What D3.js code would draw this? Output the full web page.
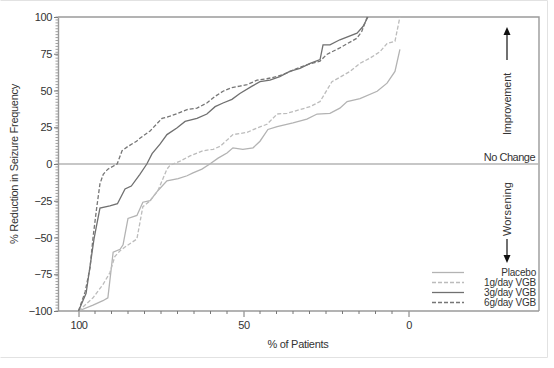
<!DOCTYPE html>
<html>
<head>
<meta charset="utf-8">
<script src="https://cdn.jsdelivr.net/npm/d3@7"></script>
<style>
  body { margin: 0; background: #fff; }
  text { font-family: "Liberation Sans", Arial, sans-serif; fill: #333; }
</style>
</head>
<body>
<script>
// % of patients (x) and % reduction (y) for each group
let placeboX = [100, 95.6, 92.6, 91.1, 89.5, 87.4, 86.5, 85, 82.3, 80.5, 78.3, 75.9, 73.2, 69.8, 67.1, 65.3, 62.6, 60.2, 57.7, 55, 53.2, 50.2, 47.1, 45, 42.6, 39.8, 35, 30.8, 27.7, 23.8, 20.8, 18.6, 14.7, 9.5, 6.5, 4.1, 2.6]
let placeboY = [-100, -96, -93, -91, -60, -58, -55, -37, -35, -26, -25, -18, -11.5, -10, -8, -6, -3.5, 0, 4, 7.5, 11, 10, 11, 15.5, 23.5, 25.5, 28, 30.5, 34, 34.5, 38, 42.5, 44.5, 49.5, 55, 63, 78]

let g1X = [100, 95.6, 92.6, 90.5, 89, 87.4, 85.3, 82.3, 81.4, 80.5, 78.3, 75.9, 73.2, 72.3, 69.2, 66.2, 62.3, 59.2, 57.1, 53.2, 48.9, 45.9, 42.9, 39.8, 36.8, 32.9, 29.8, 26.8, 23.2, 20.8, 17.7, 14.7, 11.7, 8.6, 6.5, 4.1, 2.6]
let g1Y = [-100, -91, -82, -74, -63, -59, -55.5, -51, -40, -29, -25, -18, -3.5, -1, 2, 5.5, 9, 10, 12, 20, 21.5, 24.5, 27, 34, 34.5, 37, 39, 42.5, 56, 59, 63, 68.5, 72, 76.5, 82, 83.5, 100]

let g3X = [100, 97.7, 95.3, 93.5, 90.5, 88.2, 85.9, 84, 81.4, 79.3, 77.7, 75.3, 73.2, 70.2, 67.7, 64.1, 61.1, 58.6, 56.2, 53.5, 51.1, 47.4, 45, 42, 39, 36, 32.9, 29.8, 26.8, 25.9, 23.8, 20.8, 15.6, 13.8, 12.3]
let g3Y = [-100, -88, -51, -30, -28.5, -27, -17, -15, -7, 0, 7, 13.5, 20, 24.5, 29, 31, 34, 39, 41.5, 44, 48, 53, 56, 57, 59.5, 63, 65, 68.5, 71, 81, 81, 84.5, 89, 93.5, 100]

let g6X = [100, 98, 96.5, 95.6, 94.5, 93.5, 92.5, 91.1, 89.5, 88.3, 86.8, 85, 82.4, 81.4, 78.3, 74.7, 72.3, 69.9, 67.1, 64.1, 61.1, 58.6, 56.2, 53.5, 51.1, 48.9, 45.9, 42.9, 39.8, 36.8, 34.9, 30.8, 26.8, 24.8, 20.8, 15.7, 14.2, 12.5]
let g6Y = [-100, -87, -70.5, -50, -30, -13.5, -7, -3.5, -1.5, 0, 9, 12, 15.5, 17.5, 22.5, 31, 32.5, 34.5, 37, 38, 41.5, 46, 49.5, 52, 53, 54, 57, 58, 59.5, 62, 64, 67.5, 70, 74.5, 79, 85.5, 90, 100]

let seriesNames = ['Placebo', '1g/day VGB', '3g/day VGB', '6g/day VGB']
let seriesX = [placeboX, g1X, g3X, g6X]
let seriesY = [placeboY, g1Y, g3Y, g6Y]
let seriesColor = ['#b3b3b3', '#bcbcbc', '#707070', '#767676']
let seriesDash = [null, '4,2', null, '4,2']

let xMajor = [100, 50, 0]
let yMajor = [100, 75, 50, 25, 0, -25, -50, -75, -100]

let w = 554
let h = 368
let pLeft = 58, pRight = 539, pTop = 17, pBottom = 311

let svg = d3.select('body').append('svg').attr('width', w).attr('height', h)

// light border round the picture
svg.append('path')
  .attr('d', 'M0.5,0.5 H547.5 V357.5 H0.5')
  .attr('fill', 'none').attr('stroke', '#e2e2e2')

let x = d3.scaleLinear().domain([100, 0]).range([78.5, 408.5])
let y = d3.scaleLinear().domain([-100, 100]).range([pBottom, pTop])

let axisColor = '#9a9a9a'

// frame (top and right) + zero line
svg.append('path')
  .attr('d', `M${pLeft},${pTop} H${pRight} V${pBottom}`)
  .attr('fill', 'none').attr('stroke', axisColor).attr('stroke-width', 1.4)
svg.append('line')
  .attr('x1', pLeft).attr('x2', pRight).attr('y1', y(0)).attr('y2', y(0))
  .attr('stroke', '#b5b5b5').attr('stroke-width', 1.6)

// y axis with dense minor ticks
let yAxis = svg.append('g').attr('transform', `translate(${pLeft},0)`)
  .call(d3.axisLeft(y).tickValues(yMajor).tickSize(4).tickSizeOuter(0))
yAxis.select('.domain').attr('stroke', axisColor).attr('stroke-width', 1.4)
yAxis.selectAll('.tick line').attr('stroke', '#777')
yAxis.selectAll('.tick text').attr('font-size', 11).attr('fill', '#444')
  .attr('font-family', '"Liberation Sans", Arial, sans-serif').attr('x', -6).attr('letter-spacing', -0.4)
svg.append('g').selectAll('line')
  .data(d3.range(-100, 101, 2))
  .enter().append('line')
  .attr('x1', pLeft - 2.5).attr('x2', pLeft)
  .attr('y1', d => y(d)).attr('y2', d => y(d))
  .attr('stroke', '#888').attr('stroke-width', 0.8)

// x axis
let xAxis = svg.append('g').attr('transform', `translate(0,${pBottom})`)
  .call(d3.axisBottom(x).tickValues(xMajor).tickSize(6).tickSizeOuter(0))
xAxis.select('.domain').remove()
xAxis.selectAll('.tick line').attr('stroke', '#777')
xAxis.selectAll('.tick text').attr('font-size', 11).attr('fill', '#444')
  .attr('font-family', '"Liberation Sans", Arial, sans-serif').attr('y', 10).attr('letter-spacing', -0.4)
svg.append('line')
  .attr('x1', pLeft).attr('x2', pRight).attr('y1', pBottom).attr('y2', pBottom)
  .attr('stroke', axisColor).attr('stroke-width', 1.4)
svg.append('g').selectAll('line')
  .data(d3.range(95, 0, -5).filter(d => d !== 50))
  .enter().append('line')
  .attr('x1', d => x(d)).attr('x2', d => x(d))
  .attr('y1', pBottom).attr('y2', pBottom + 3)
  .attr('stroke', '#777')

// curves
let line = d3.line().x(d => x(d[0])).y(d => y(d[1]))
seriesNames.forEach((name, i) => {
  let pts = seriesX[i].map((v, j) => [v, seriesY[i][j]])
  svg.append('path')
    .datum(pts)
    .attr('d', line)
    .attr('fill', 'none')
    .attr('stroke', seriesColor[i])
    .attr('stroke-width', 1.3)
    .attr('stroke-dasharray', seriesDash[i])
})

// axis titles
svg.append('text')
  .attr('transform', `translate(18,${(pTop + pBottom) / 2}) rotate(-90)`)
  .attr('text-anchor', 'middle').attr('font-size', 11).attr('letter-spacing', -0.3)
  .text('% Reduction in Seizure Frequency')
svg.append('text')
  .attr('x', 298).attr('y', 348)
  .attr('text-anchor', 'middle').attr('font-size', 11).attr('letter-spacing', -0.3)
  .text('% of Patients')

// right side notes
let noteX = 507
svg.append('text')
  .attr('transform', `translate(${noteX + 4},104) rotate(-90)`)
  .attr('text-anchor', 'middle').attr('font-size', 11).attr('letter-spacing', -0.2)
  .text('Improvement')
svg.append('text')
  .attr('x', 535).attr('y', 161)
  .attr('text-anchor', 'end').attr('font-size', 11).attr('letter-spacing', -0.5)
  .text('No Change')
svg.append('text')
  .attr('transform', `translate(${noteX + 4},209) rotate(-90)`)
  .attr('text-anchor', 'middle').attr('font-size', 11).attr('letter-spacing', 0.2)
  .text('Worsening')

svg.append('line').attr('x1', noteX).attr('x2', noteX).attr('y1', 60).attr('y2', 33)
  .attr('stroke', '#111').attr('stroke-width', 1.2)
svg.append('path').attr('d', `M${noteX - 3.5},35 L${noteX},27 L${noteX + 3.5},35 Z`).attr('fill', '#111')
svg.append('line').attr('x1', noteX).attr('x2', noteX).attr('y1', 239).attr('y2', 257)
  .attr('stroke', '#111').attr('stroke-width', 1.2)
svg.append('path').attr('d', `M${noteX - 3.5},255 L${noteX},263 L${noteX + 3.5},255 Z`).attr('fill', '#111')

// legend
let legY = [272.5, 282.5, 292.5, 302.5]
let leg = svg.append('g')
seriesNames.forEach((name, i) => {
  leg.append('line')
    .attr('x1', 432).attr('x2', 464).attr('y1', legY[i]).attr('y2', legY[i])
    .attr('stroke', seriesColor[i]).attr('stroke-width', 1.3)
    .attr('stroke-dasharray', seriesDash[i])
  leg.append('text')
    .attr('x', 536).attr('y', legY[i] + 3.5)
    .attr('text-anchor', 'end').attr('font-size', 10).attr('letter-spacing', -0.2)
    .text(name)
})
</script>
</body>
</html>
